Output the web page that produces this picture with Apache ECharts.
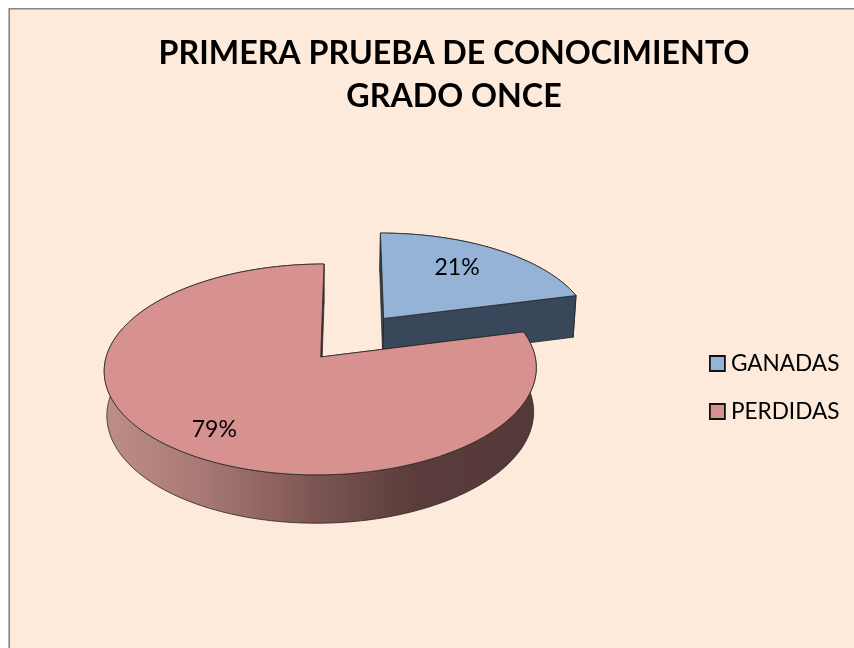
<!DOCTYPE html>
<html><head><meta charset="utf-8">
<style>html,body{margin:0;padding:0;background:#fff}#c{width:854px;height:648px}</style>
<script src="https://cdn.jsdelivr.net/npm/echarts@6/dist/echarts.min.js"></script>
</head><body><div id="c"></div>
<script>
const titleLines = ['PRIMERA PRUEBA DE CONOCIMIENTO', 'GRADO ONCE'];
const categories = ['GANADAS', 'PERDIDAS'];
const values = [21, 79];
const topColors = ['#95B3D7', '#D79290'];
const cutColors = ['#39475A', '#553838'];
const wallStops = [
  ['#39475A', '#39475A', '#39475A', '#39475A', '#39475A', '#39475A'],
  ['#BE8D88', '#A97A75', '#8C615E', '#7A5452', '#593C3B', '#553838']
];
const wallOffsets = [0, 0.22, 0.4, 0.5, 0.72, 1];
const explode = [0.49, 0];
const labelPolar = [[34, 0.70], [215, 0.78]];

// 3D view of the pie: perspective on the top plane plus a vertical extrusion
const view = { vx: 352, vy: -524, h: 881, a: 214.5, p: 0.118, base: [-0.146, 0], ext: 0.0122, dropX: 320, dropY: 3970 };
function project(X, Z, low) {
  const d = 1 + view.p * Z;
  let x = view.vx + view.a * X / d, y = view.vy + view.h / d;
  if (low) { const t = view.ext / d; x += (view.dropX - x) * t; y += (view.dropY - y) * t; }
  return [x, y];
}
const total = values.reduce((s, v) => s + v, 0);
function sliceGeom(i) {
  let start = 0;
  for (let k = 0; k < i; k++) start += values[k] / total * 360;
  const sweep = values[i] / total * 360, mid = (start + sweep / 2) * Math.PI / 180;
  const cx = view.base[0] + explode[i] * Math.sin(mid);
  const cz = view.base[1] + explode[i] * Math.cos(mid);
  return { start, sweep, cx, cz };
}
function arc(g, low) {
  const pts = [], n = Math.ceil(g.sweep);
  for (let k = 0; k <= n; k++) {
    const t = (g.start + g.sweep * k / n) * Math.PI / 180;
    pts.push(project(g.cx + Math.sin(t), g.cz + Math.cos(t), low));
  }
  return pts;
}
function renderSlice(i) {
  return function () {
    const g = sliceGeom(i);
    const top = arc(g, false), bot = arc(g, true);
    const ap = project(g.cx, g.cz, false), apLow = project(g.cx, g.cz, true);
    const edge = { stroke: '#262626', lineWidth: 0.8 };
    const poly = (points, fill) => ({ type: 'polygon', shape: { points }, style: Object.assign({ fill }, edge) });
    const wallFill = { type: 'linear', x: 0, y: 0, x2: 1, y2: 0, global: false,
      colorStops: wallStops[i].map((c, k) => ({ offset: wallOffsets[k], color: c })) };
    const last = top.length - 1;
    const lp = labelPolar[i], la = lp[0] * Math.PI / 180;
    const lb = project(g.cx + lp[1] * Math.sin(la), g.cz + lp[1] * Math.cos(la), false);
    return { type: 'group', children: [
      poly(top.concat(bot.slice().reverse()), wallFill),
      poly([ap, top[0], bot[0], apLow], cutColors[i]),
      poly([ap, top[last], bot[last], apLow], cutColors[i]),
      poly([ap].concat(top), topColors[i]),
      { type: 'text', style: { text: Math.round(values[i] / total * 100) + '%', x: lb[0], y: lb[1] + 1,
        fill: '#000', font: '23px Lato', align: 'center', verticalAlign: 'middle' } }
    ] };
  };
}
const chart = echarts.init(document.getElementById('c'), null, { renderer: 'canvas' });
chart.setOption({
  animation: false,
  backgroundColor: '#fff',
  graphic: [{ type: 'rect', z: -10, silent: true, shape: { x: 9.2, y: 8.8, width: 900, height: 700 },
    style: { fill: '#FDEADA', stroke: '#868686', lineWidth: 1.6 } }],
  title: { text: titleLines.join('\n'), left: 449, top: 27.5, textAlign: 'center',
    textStyle: { fontFamily: 'Lato', fontWeight: 'bold', fontSize: 32.2, lineHeight: 43, color: '#000' } },
  legend: { orient: 'vertical', left: 704, top: 347, itemWidth: 15, itemHeight: 15, itemGap: 25,
    data: categories, selectedMode: false, icon: 'rect',
    itemStyle: { borderColor: '#111', borderWidth: 1.8 },
    textStyle: { fontFamily: 'Lato', fontSize: 22.6, color: '#000', padding: [0, 0, 0, 1] } },
  series: categories.map((name, i) => ({
    type: 'custom', name, coordinateSystem: 'none', silent: true,
    itemStyle: { color: topColors[i] }, data: [values[i]], renderItem: renderSlice(i)
  }))
});
</script></body></html>
